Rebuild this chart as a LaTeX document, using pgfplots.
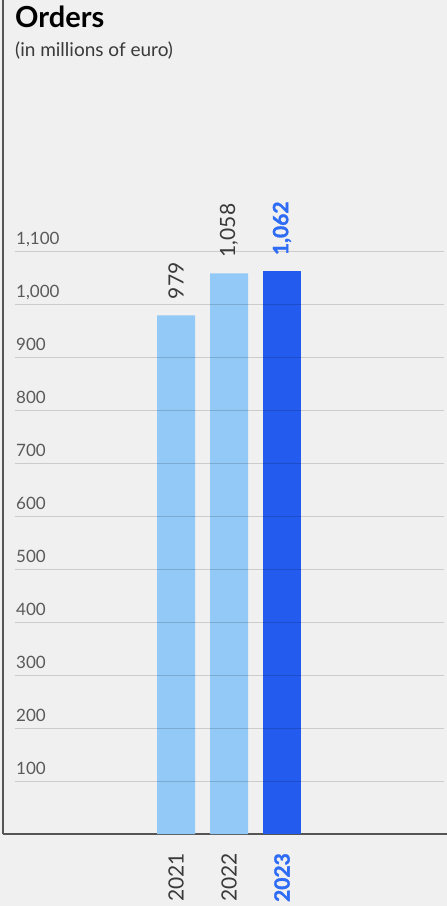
\documentclass[border=0pt]{standalone}
\usepackage{pgfplots}
\pgfplotsset{compat=1.18}
\usepackage{fontspec}
\setmainfont{Lato}
\newfontfamily\latobold{Lato Bold}
\newfontfamily\latoheavy{Lato Bold}[FakeBold=1.5]
\definecolor{bgc}{HTML}{F0F0F0}
\definecolor{lightbar}{HTML}{92C9F7}
\definecolor{darkbar}{HTML}{245BEF}
\definecolor{hl}{HTML}{2E6CF6}
\definecolor{axc}{HTML}{555555}
\definecolor{tickc}{HTML}{5A5A5A}
\definecolor{lblc}{HTML}{3A3A3A}
\begin{document}
\begin{tikzpicture}[x=1pt,y=1pt]
\fill[bgc] (0,0) rectangle (447,906);
\begin{axis}[
  at={(3pt,72pt)}, anchor=south west, scale only axis,
  width=444pt, height=834pt,
  xmin=-3.264, xmax=5.113, ymin=0, ymax=1574,
  axis lines*=left,
  axis line style={axc, line width=1.5pt},
  xtick={0,1},
  xticklabels={2021,2022},
  extra x ticks={2},
  extra x tick labels={2023},
  extra x tick style={xticklabel style={font=\fontsize{21}{21}\latoheavy, text=hl}},
  ytick={100,200,...,1100},
  major tick length=0pt,
  unbounded coords=jump,
  /pgf/number format/assume math mode=true,
  /pgf/number format/1000 sep={,},
  yticklabel style={anchor=base west, inner sep=0pt, xshift=13pt, yshift=7pt,
    font=\fontsize{17}{17}\selectfont, text=tickc},
  xticklabel style={anchor=east, rotate=90, inner xsep=19pt, inner ysep=0pt,
    font=\fontsize{21}{21}\selectfont, text=lblc},
]
\addplot[ybar, bar width=38pt, fill=lightbar, draw=none,
  nodes near coords,
  nodes near coords style={anchor=west, rotate=90, inner xsep=16pt, inner ysep=0pt,
    font=\fontsize{21}{21}\selectfont, text=lblc}]
  coordinates {(0,979) (1,1058)};
\addplot[ybar, bar width=38pt, fill=darkbar, draw=none,
  nodes near coords,
  nodes near coords style={anchor=west, rotate=90, inner xsep=16pt, inner ysep=0pt,
    font=\fontsize{21}{21}\latoheavy, text=hl}]
  coordinates {(2,1062)};
% horizontal grid lines (drawn over the bars)
\addplot[black, opacity=0.15, line width=1pt, no marks, forget plot]
  coordinates {
  (-3.038,100) (5.057,100) (0,nan)
  (-3.038,200) (5.057,200) (0,nan)
  (-3.038,300) (5.057,300) (0,nan)
  (-3.038,400) (5.057,400) (0,nan)
  (-3.038,500) (5.057,500) (0,nan)
  (-3.038,600) (5.057,600) (0,nan)
  (-3.038,700) (5.057,700) (0,nan)
  (-3.038,800) (5.057,800) (0,nan)
  (-3.038,900) (5.057,900) (0,nan)
  (-3.038,1000) (5.057,1000) (0,nan)
  (-3.038,1100) (5.057,1100)
  };
\end{axis}
\node[anchor=base west, inner sep=0pt, font=\fontsize{29}{29}\latobold] at (15,878) {Orders};
\node[anchor=base west, inner sep=0pt, font=\fontsize{19}{19}\selectfont, text=lblc] at (15,849) {(in millions of euro)};
\pgfresetboundingbox
\useasboundingbox (0,0) rectangle (447,906);
\end{tikzpicture}
\end{document}
